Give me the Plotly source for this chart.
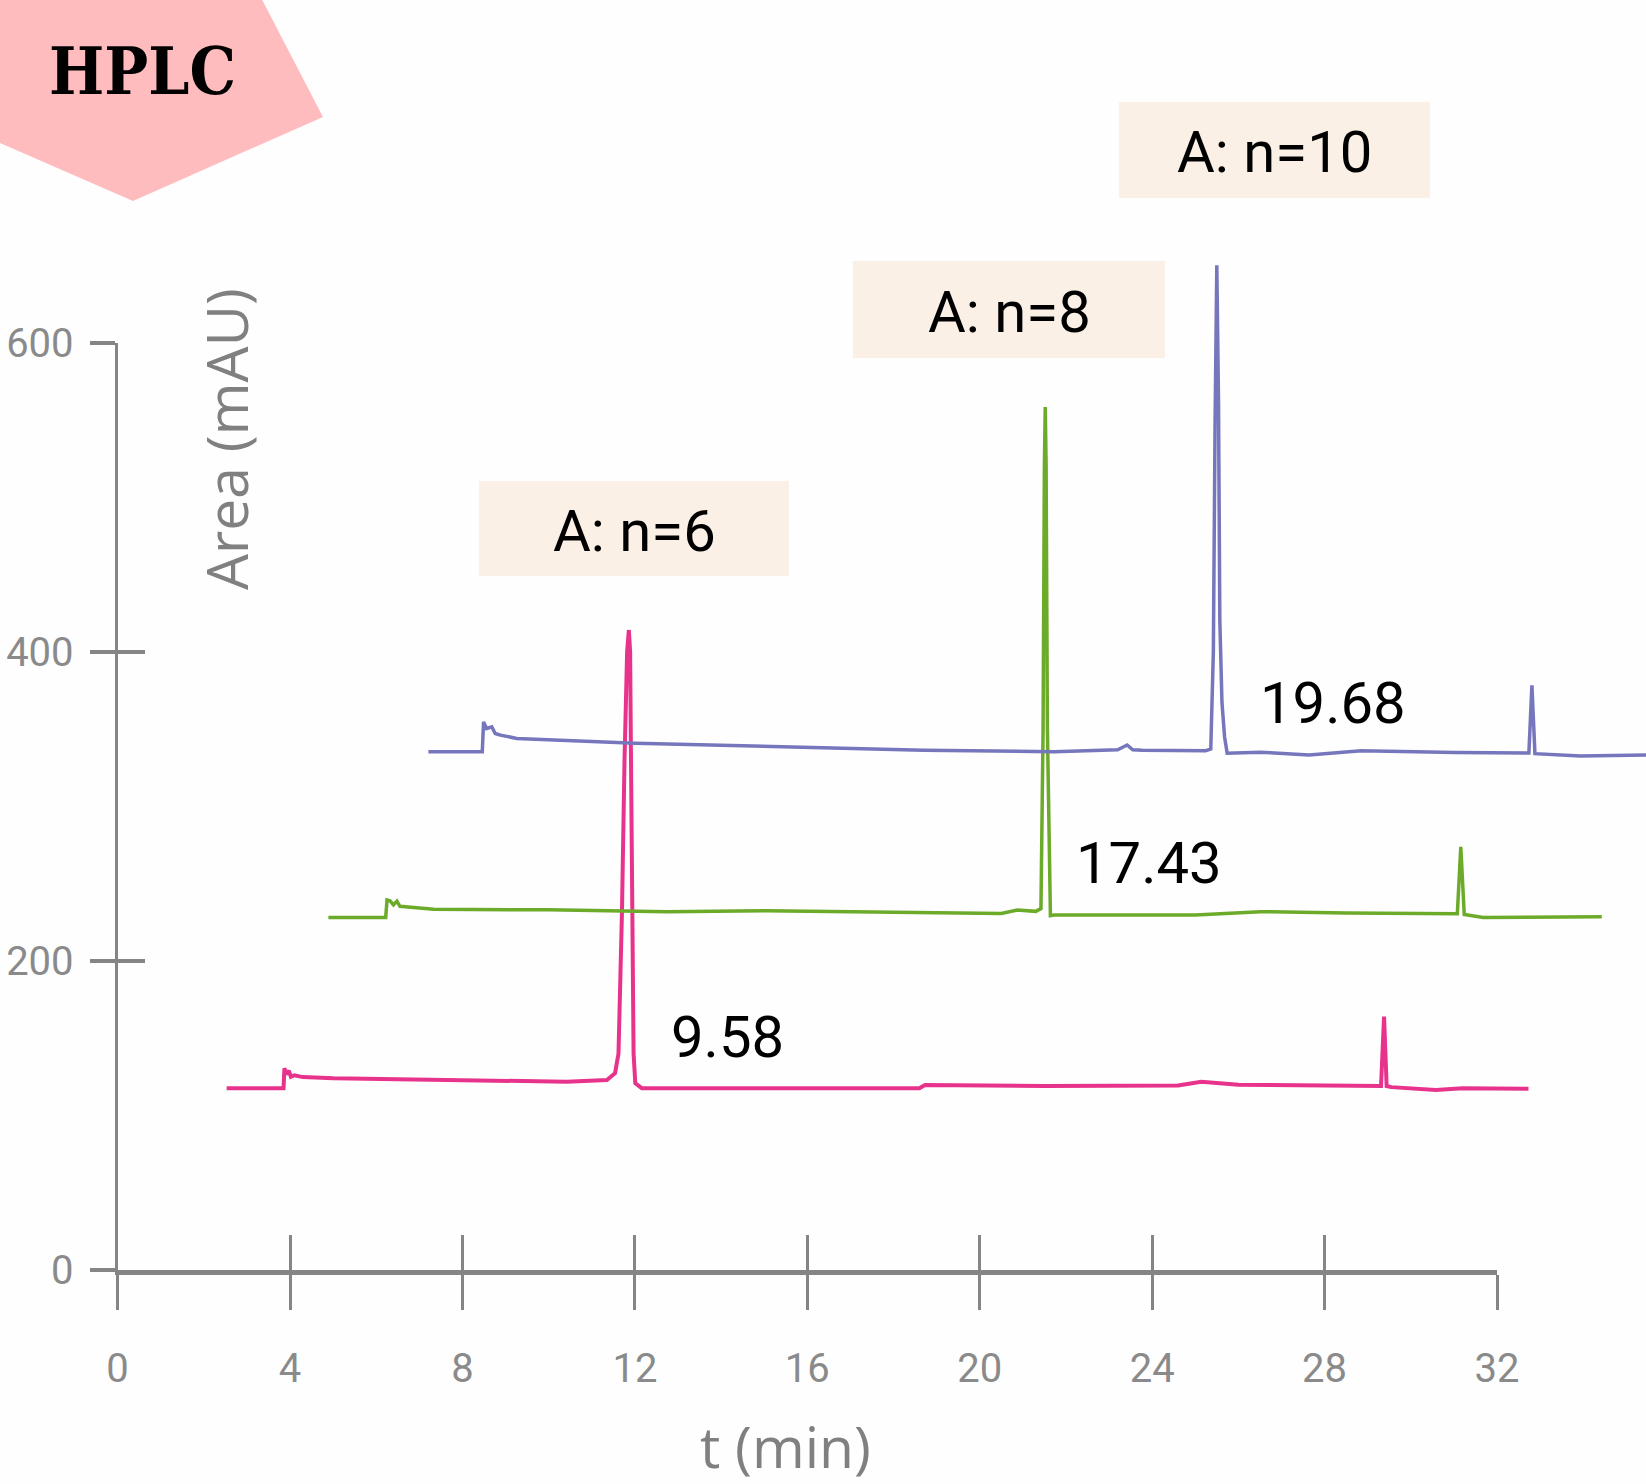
import plotly.graph_objects as go

W, H = 1646, 1484

# ---------------- data ----------------
PINK_T = [2.53, 3.85, 3.87, 3.92, 3.97, 4.02, 4.10, 4.30, 5.01, 8.10, 10.42, 11.35,
          11.54, 11.62, 11.70, 11.76, 11.82, 11.86, 11.89, 11.91, 11.93, 11.97, 12.01, 12.16,
          15.0, 18.6, 18.73, 21.5, 24.6, 25.14, 26.0, 29.22, 29.31, 29.38, 29.44, 29.55,
          30.58, 31.2, 32.73]
PINK_V = [117.6, 117.6, 130.5, 126.5, 129.0, 125.0, 126.0, 124.8, 124.0, 122.9, 121.8, 122.9,
          127.3, 140.0, 230.7, 330.0, 400.0, 414.0, 400.0, 330.0, 230.7, 140.0, 120.8, 117.6,
          117.6, 117.6, 119.7, 119.0, 119.4, 121.8, 119.8, 118.6, 119.0, 163.9, 119.0, 118.3,
          116.5, 117.5, 117.3]

GREEN_T = [4.89, 6.22, 6.25, 6.32, 6.40, 6.48, 6.55, 7.33, 10.0, 12.74, 15.04, 20.5, 20.87,
           21.3, 21.42, 21.47, 21.50, 21.52, 21.54, 21.57, 21.64, 21.72, 25.0, 26.51, 28.5,
           30.07, 31.08, 31.16, 31.24, 31.68, 33.0, 34.43]
GREEN_V = [228.1, 228.1, 239.3, 238.8, 236.2, 238.6, 235.3, 233.3, 233.0, 231.8, 232.4, 230.7, 232.9,
           232.0, 233.8, 350.0, 520.0, 558.3, 520.0, 350.0, 229.2, 229.6, 229.6, 231.8, 231.0,
           230.7, 230.5, 273.8, 230.0, 228.1, 228.3, 228.5]

BLUE_T = [7.21, 8.46, 8.49, 8.56, 8.68, 8.76, 8.88, 9.26, 12.01, 15.04, 18.69, 21.72, 23.2,
          23.42, 23.55, 23.77, 25.24, 25.36, 25.42, 25.46, 25.50, 25.54, 25.57, 25.62, 25.68,
          25.74, 26.5, 27.64, 28.85, 31.03, 32.74, 32.81, 32.88, 33.94, 35.46]
BLUE_V = [335.2, 335.2, 354.6, 350.3, 351.4, 347.1, 346.0, 343.9, 340.7, 338.5, 336.3, 335.2, 336.5,
          339.6, 336.5, 336.3, 335.9, 337.0, 400.0, 550.0, 650.0, 560.0, 420.0, 367.0, 345.0,
          334.3, 335.0, 333.1, 335.9, 334.8, 334.5, 378.3, 334.0, 332.5, 333.1]

X_TICKS = [0, 4, 8, 12, 16, 20, 24, 28, 32]
Y_TICKS = [0, 200, 400, 600]
SAMPLE_LABELS = ["A: n=6", "A: n=8", "A: n=10"]
PEAK_LABELS = ["9.58", "17.43", "19.68"]

# ---------------- layout geometry (pixels) ----------------
X0PX, X32PX = 117.6, 1497.0
Y0PX, Y600PX = 1270.0, 342.5
SX = (X32PX - X0PX) / 32.0
SY = (Y0PX - Y600PX) / 600.0
XR = [-X0PX / SX, (W - X0PX) / SX]
YR = [-(H - Y0PX) / SY, Y0PX / SY]

def px(x):
    return x / W

def py(y):
    return 1 - y / H

AXC = "#858585"
TICKFONT = dict(family="Roboto, Liberation Sans, sans-serif", size=40, color="#8a8a8a")
TXTFONT = dict(family="Roboto, Open Sans, sans-serif", size=58, color="#000000")

fig = go.Figure()

for t, v, c, w in [(PINK_T, PINK_V, "#E8338C", 4),
                   (GREEN_T, GREEN_V, "#6CAA2A", 3.5),
                   (BLUE_T, BLUE_V, "#7676BD", 3.5)]:
    fig.add_trace(go.Scatter(x=t, y=v, mode="lines", line=dict(color=c, width=w),
                             xaxis="x", yaxis="y", showlegend=False, hoverinfo="skip"))

# dummy traces to register the axis subplots
fig.add_trace(go.Scatter(x=[None], y=[None], xaxis="x2", yaxis="y2", showlegend=False))
fig.add_trace(go.Scatter(x=[None], y=[None], xaxis="x3", yaxis="y2", showlegend=False))
fig.add_trace(go.Scatter(x=[None], y=[None], xaxis="x2", yaxis="y3", showlegend=False))

dom_x = [px(X0PX), px(X32PX)]
dom_y = [py(Y0PX), py(Y600PX)]

fig.update_layout(
    width=W, height=H,
    margin=dict(l=0, r=0, t=0, b=0, pad=0, autoexpand=False),
    paper_bgcolor="#FEFEFE", plot_bgcolor="rgba(0,0,0,0)",
    showlegend=False,
    xaxis=dict(domain=[0, 1], range=XR, visible=False, fixedrange=True, automargin=False),
    yaxis=dict(domain=[0, 1], range=YR, visible=False, fixedrange=True, automargin=False),
    xaxis2=dict(domain=dom_x, range=[0, 32], anchor="y2", showline=True, linewidth=5,
                linecolor=AXC, ticks="outside", ticklen=35, tickwidth=3, tickcolor=AXC,
                tickvals=X_TICKS, ticktext=[str(v) for v in X_TICKS], tickfont=TICKFONT,
                showgrid=False, zeroline=False, ticklabelstandoff=24, automargin=False),
    xaxis3=dict(overlaying="x2", range=[0, 32], anchor="y2", side="bottom", showline=False,
                ticks="inside", ticklen=35, tickwidth=3, tickcolor=AXC, tickvals=X_TICKS,
                showticklabels=False, showgrid=False, zeroline=False, automargin=False),
    yaxis2=dict(domain=dom_y, range=[0, 600], anchor="x2", showline=True, linewidth=3,
                linecolor=AXC, ticks="outside", ticklen=25, tickwidth=4, tickcolor=AXC,
                tickvals=Y_TICKS, ticktext=[str(v) for v in Y_TICKS], tickfont=TICKFONT,
                showgrid=False, zeroline=False, ticklabelstandoff=8, automargin=False),
    yaxis3=dict(overlaying="y2", range=[0, 600], anchor="x2", side="left", showline=False,
                ticks="inside", ticklen=27, tickwidth=4, tickcolor=AXC, tickvals=Y_TICKS,
                showticklabels=False, showgrid=False, zeroline=False, automargin=False),
)

shapes = []
# pink pentagon badge
pent = [(0, -12), (256, -12), (323, 117), (133, 201), (0, 143)]
path = "M " + " L ".join(f"{px(a):.5f},{py(b):.5f}" for a, b in pent) + " Z"
shapes.append(dict(type="path", xref="paper", yref="paper", path=path,
                   fillcolor="#FFBCBF", line=dict(width=0), layer="below"))

boxes = [(479, 789, 481, 576), (853, 1165, 261, 358), (1119, 1430, 102, 198)]
for (x0, x1, y0, y1) in boxes:
    shapes.append(dict(type="rect", xref="paper", yref="paper",
                       x0=px(x0), x1=px(x1), y0=py(y1), y1=py(y0),
                       fillcolor="#FAF0E5", line=dict(width=0), layer="below"))
fig.update_layout(shapes=shapes)

annos = []
annos.append(dict(text="<b>HPLC</b>", x=px(142), y=py(71), xref="paper", yref="paper",
                  showarrow=False, xanchor="center", yanchor="middle",
                  font=dict(family="DejaVu Serif Condensed, DejaVu Serif, serif", size=65,
                            color="#000000")))
for lab, (x0, x1, y0, y1) in zip(SAMPLE_LABELS, boxes):
    annos.append(dict(text=lab, x=px((x0 + x1) / 2), y=py((y0 + y1) / 2 + 2),
                      xref="paper", yref="paper", showarrow=False,
                      xanchor="center", yanchor="middle", font=TXTFONT))
peak_pos = [(727, 1037), (1149, 863), (1333, 703)]
for lab, (cx, cy) in zip(PEAK_LABELS, peak_pos):
    annos.append(dict(text=lab, x=px(cx), y=py(cy), xref="paper", yref="paper",
                      showarrow=False, xanchor="center", yanchor="middle", font=TXTFONT))
annos.append(dict(text="Area (mAU)", x=px(226), y=py(439), xref="paper", yref="paper",
                  showarrow=False, textangle=-90, xanchor="center", yanchor="middle",
                  font=dict(family="Open Sans, sans-serif", size=57, color="#808080")))
annos.append(dict(text="t (min)", x=px(785), y=py(1446), xref="paper", yref="paper",
                  showarrow=False, xanchor="center", yanchor="middle",
                  font=dict(family="Open Sans, sans-serif", size=57, color="#808080")))
fig.update_layout(annotations=annos)

fig.write_html("out.html",
               config={"displayModeBar": False},
               post_script="document.body.style.margin='0';document.body.style.padding='0';"
                           "document.documentElement.style.overflow='hidden';")
